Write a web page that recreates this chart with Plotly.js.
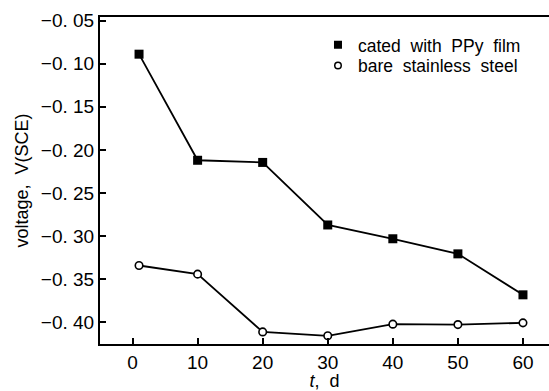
<!DOCTYPE html>
<html>
<head>
<meta charset="utf-8">
<script src="https://cdn.plot.ly/plotly-3.0.1.min.js"></script>
<style>html,body{margin:0;padding:0;background:#fff;}#chart{width:549px;height:391px;}</style>
</head>
<body>
<div id="chart"></div>
<script>
// Data
const days = [1, 10, 20, 30, 40, 50, 60];
const coatedPPy = [-0.089, -0.212, -0.2145, -0.287, -0.303, -0.3205, -0.368];
const bareSteel = [-0.334, -0.344, -0.411, -0.4155, -0.402, -0.4025, -0.4005];
const seriesNames = ["cated  with  PPy  film", "bare  stainless  steel"];
const xTickVals = [0, 10, 20, 30, 40, 50, 60];
const xTickText = ["0", "10", "20", "30", "40", "50", "60"];
const yTickVals = [-0.05, -0.10, -0.15, -0.20, -0.25, -0.30, -0.35, -0.40];
const yTickText = ["\u22120. 05", "\u22120. 10", "\u22120. 15", "\u22120. 20", "\u22120. 25", "\u22120. 30", "\u22120. 35", "\u22120. 40"];
const xTitle = "<i>t</i>,\u00a0\u00a0d";
const yTitle = "voltage,\u00a0\u00a0V(SCE)";

const FONT = "Liberation Sans, Arial, Helvetica, sans-serif";
const legendFont = {family: FONT, size: 17.5, color: "#000"};

const traces = [
  {x: days, y: coatedPPy, mode: "lines+markers", showlegend: false,
   line: {color: "#000", width: 1.8},
   marker: {symbol: "square", size: 9, color: "#000"}},
  {x: days, y: bareSteel, mode: "lines+markers", showlegend: false,
   line: {color: "#000", width: 1.8},
   marker: {symbol: "circle", size: 7.5, color: "#fff", line: {color: "#000", width: 1.6}}},
  {x: [null], y: [null], mode: "markers", name: seriesNames[0], legend: "legend",
   marker: {symbol: "square", size: 8, color: "#000"}},
  {x: [null], y: [null], mode: "markers", name: seriesNames[1], legend: "legend2",
   marker: {symbol: "circle", size: 6.5, color: "#fff", line: {color: "#000", width: 1.5}}}
];

const layout = {
  width: 549, height: 391,
  margin: {l: 100, r: 0, t: 17, b: 47, pad: 0},
  paper_bgcolor: "#fff", plot_bgcolor: "#fff",
  font: {family: FONT, size: 18, color: "#000"},
  showlegend: true,
  legend: {x: 0.4855, xanchor: "left", y: 0.97, yanchor: "top", xref: "paper", yref: "paper",
           font: legendFont, bgcolor: "rgba(0,0,0,0)", itemwidth: 30},
  legend2: {x: 0.4855, xanchor: "left", y: 0.906, yanchor: "top", xref: "paper", yref: "paper",
           font: legendFont, bgcolor: "rgba(0,0,0,0)", itemwidth: 30},
  xaxis: {
    range: [-5, 64], showgrid: false, zeroline: false,
    showline: true, linecolor: "#000", linewidth: 2, mirror: true,
    ticks: "inside", ticklen: 6, tickwidth: 2, tickcolor: "#000",
    tickvals: xTickVals, ticktext: xTickText,
    tickfont: {family: FONT, size: 19, color: "#000"},
    title: {text: xTitle, font: {family: FONT, size: 18, color: "#000"}, standoff: 9}
  },
  yaxis: {
    range: [-0.425, -0.0459], showgrid: false, zeroline: false,
    showline: true, linecolor: "#000", linewidth: 2, mirror: false,
    ticks: "inside", ticklen: 6, tickwidth: 2, tickcolor: "#000",
    tickvals: yTickVals, ticktext: yTickText,
    tickfont: {family: FONT, size: 19, color: "#000"},
    title: {text: yTitle, font: {family: FONT, size: 18, color: "#000"}, standoff: 8}
  }
};

Plotly.newPlot("chart", traces, layout, {staticPlot: true, displayModeBar: false});
</script>
</body>
</html>
